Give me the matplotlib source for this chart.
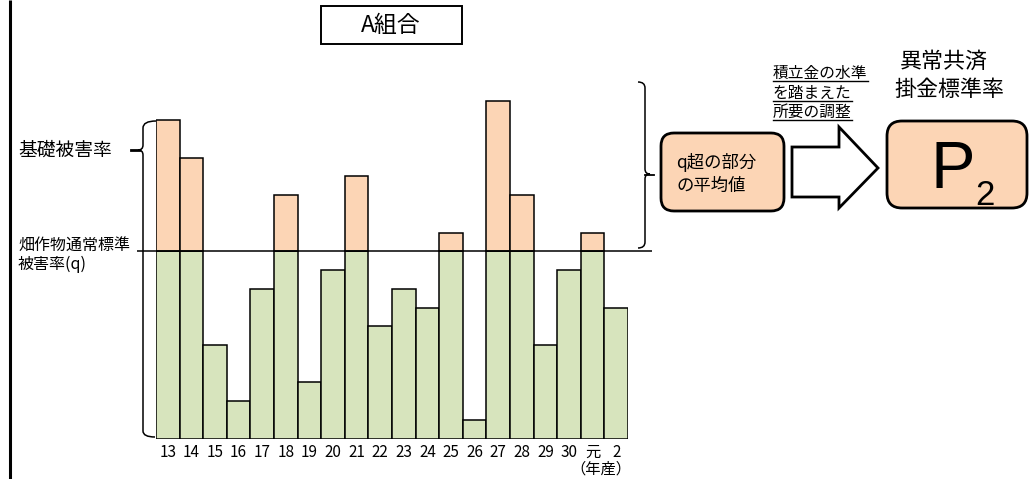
import matplotlib
matplotlib.use("Agg")
import matplotlib.pyplot as plt
from matplotlib.path import Path
from matplotlib.patches import PathPatch, FancyBboxPatch, Polygon, Rectangle
import numpy as np

plt.rcParams['font.family'] = ['Noto Sans CJK JP', 'DejaVu Sans']

# 年産ごとの基礎被害率（通常標準被害率 q = 100 とした相対値）
years = ["13", "14", "15", "16", "17", "18", "19", "20", "21", "22",
         "23", "24", "25", "26", "27", "28", "29", "30", "元", "2"]
damage_rate = [170, 150, 50, 20, 80, 130, 30, 90, 140, 60,
               80, 70, 110, 10, 180, 130, 50, 90, 110, 70]
q_rate = 100

GREEN = "#D7E4BD"
PEACH = "#FCD5B5"

W, H = 1029, 479
fig = plt.figure(figsize=(W / 100, H / 100), dpi=100)

# --- 棒グラフ ---
x0_px, x1_px = 156, 628
base_px, top_px = 438.7, 64.0
ax = fig.add_axes([x0_px / W, (H - base_px) / H,
                   (x1_px - x0_px) / W, (base_px - top_px) / H])
x = np.arange(len(years))
vals = np.array(damage_rate, dtype=float)
below = np.minimum(vals, q_rate)
above = np.clip(vals - q_rate, 0, None)
ax.bar(x, below, width=1.0, color=GREEN, edgecolor="black", linewidth=1.1, zorder=2)
mask = above > 0
ax.bar(x[mask], above[mask], bottom=q_rate, width=1.0, color=PEACH,
       edgecolor="black", linewidth=1.1, zorder=2)
ax.set_xlim(-0.5, len(years) - 0.5)
ax.set_ylim(0, 200)
px_per_unit = (x1_px - x0_px) / len(years)
ax.hlines(q_rate, -0.5 + (137 - x0_px) / px_per_unit,
          -0.5 + (652 - x0_px) / px_per_unit,
          color="black", linewidth=1.1, clip_on=False, zorder=3)
ax.set_xticks(x)
ax.set_xticklabels(years, fontsize=11)
ax.tick_params(axis="x", length=0, pad=3.5)
ax.set_yticks([])
for s in ax.spines.values():
    s.set_visible(False)
ax.patch.set_alpha(0)

# --- 注釈用のピクセル座標レイヤー ---
ov = fig.add_axes([0, 0, 1, 1], zorder=5)
ov.set_xlim(0, W)
ov.set_ylim(H, 0)
ov.axis("off")
ov.patch.set_alpha(0)

# 左端の縦線
ov.plot([9.5, 9.5], [0, H], color="black", linewidth=2.2, solid_capstyle="butt")

# 題名枠
ov.add_patch(Rectangle((321, 6), 141, 38, facecolor="white", edgecolor="black", linewidth=1.4))
ov.text(391, 25, "A組合", ha="center", va="center", fontsize=16.5)

# 波括弧（左）
C3 = Path.CURVE3
left_brace = Path(
    [(156, 121), (143, 121), (143, 128), (143, 145), (143, 150), (138, 150),
     (143, 150), (143, 155), (143, 431), (143, 437), (155, 437)],
    [Path.MOVETO, C3, C3, Path.LINETO, C3, C3, C3, C3, Path.LINETO, C3, C3])
ov.add_patch(PathPatch(left_brace, facecolor="none", edgecolor="black", linewidth=1.1))
ov.plot([131, 139], [150, 150], color="black", linewidth=2)

# 波括弧（右）
right_brace = Path(
    [(638, 82), (645, 82), (645, 88), (645, 169), (645, 174), (650, 174),
     (645, 174), (645, 179), (645, 242), (645, 248), (638, 248)],
    [Path.MOVETO, C3, C3, Path.LINETO, C3, C3, C3, C3, Path.LINETO, C3, C3])
ov.add_patch(PathPatch(right_brace, facecolor="none", edgecolor="black", linewidth=1.1))
ov.plot([645, 654], [175, 175], color="black", linewidth=1.3)

# 左側の説明
ov.text(18, 150, "基礎被害率", ha="left", va="center", fontsize=13.5)
ov.text(18, 246, "畑作物通常標準", ha="left", va="center", fontsize=11.5)
ov.text(18, 264, "被害率(q)", ha="left", va="center", fontsize=11.5)

# 年産表示
ov.text(601, 469, "（年産）", ha="center", va="center", fontsize=11)

# q超の部分の平均値
ov.add_patch(FancyBboxPatch((661, 133), 123, 78,
                            boxstyle="round,pad=0,rounding_size=13",
                            facecolor=PEACH, edgecolor="black", linewidth=2))
ov.text(676, 163, "q超の部分", ha="left", va="center", fontsize=12.5)
ov.text(676, 186, "の平均値", ha="left", va="center", fontsize=12.5)

# 白抜き矢印
ov.add_patch(Polygon([(792, 147), (839, 147), (839, 127), (878, 168),
                      (839, 208), (839, 197), (792, 197)],
                     closed=True, facecolor="white", edgecolor="black",
                     linewidth=2, joinstyle="miter"))

# 調整の注記（下線付き）
notes = ["積立金の水準", "を踏まえた", "所要の調整"]
note_y = [73, 93, 112]
note_texts = [ov.text(773, yy, t, ha="left", va="center", fontsize=11.3)
              for t, yy in zip(notes, note_y)]

# 異常共済掛金標準率
ov.text(944, 62, "異常共済", ha="center", va="center", fontsize=15.8)
ov.text(949, 90, "掛金標準率", ha="center", va="center", fontsize=15.8)
ov.add_patch(FancyBboxPatch((887, 121), 140, 87,
                            boxstyle="round,pad=0,rounding_size=15",
                            facecolor=PEACH, edgecolor="black", linewidth=2))
ov.text(931, 188, "P", ha="left", va="baseline", fontsize=48,
        family="Liberation Sans")
ov.text(975, 205, "2", ha="left", va="baseline", fontsize=25,
        family="Liberation Sans")

# 注記の下線を文字幅に合わせて引く
fig.canvas.draw()
renderer = fig.canvas.get_renderer()
inv = ov.transData.inverted()
for t, yy in zip(note_texts, note_y):
    bb = t.get_window_extent(renderer)
    (xa, _), (xb, _) = inv.transform([(bb.x0, bb.y0), (bb.x1, bb.y0)])
    ov.plot([xa, xb], [yy + 8, yy + 8], color="black", linewidth=1)

fig.savefig("out.png", dpi=100)
